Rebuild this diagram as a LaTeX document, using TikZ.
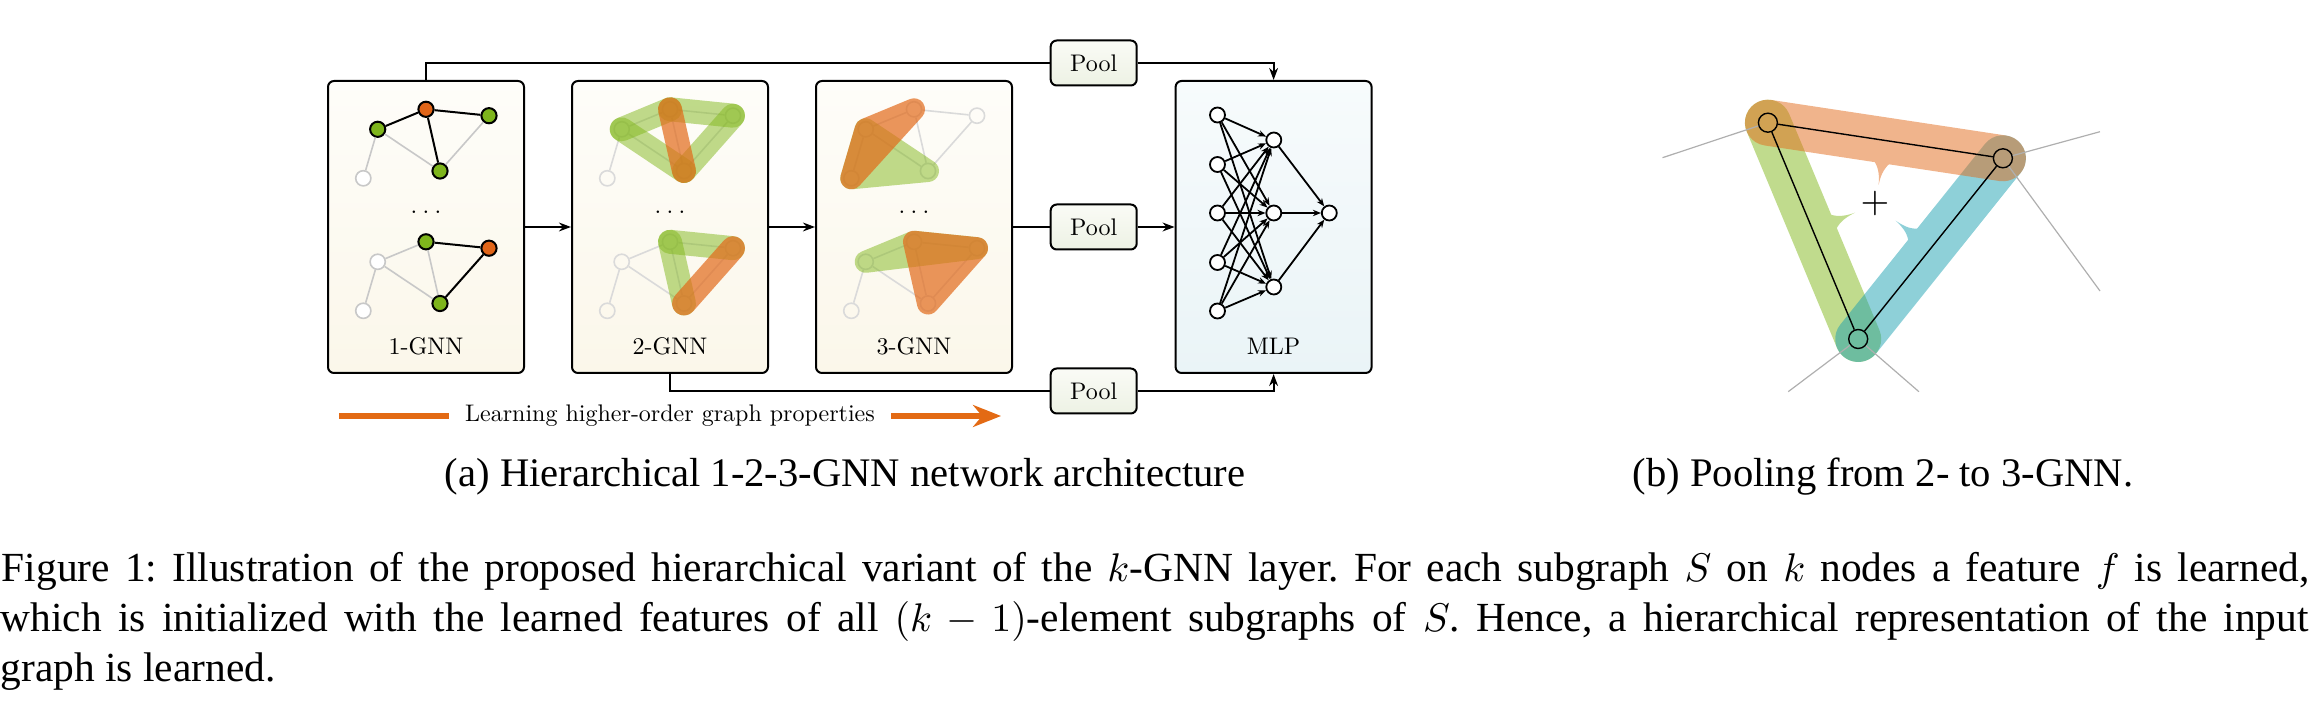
\documentclass[tikz,border=0pt]{standalone}
\usepackage{fontspec}
\newfontfamily\capfont{Liberation Serif}
\newfontfamily\lmten{lmroman10-regular}[Extension=.otf]
\usetikzlibrary{arrows.meta,calc}

\definecolor{gfill}{RGB}{126,181,28}
\definecolor{ofill}{RGB}{224,101,25}
\definecolor{gband}{RGB}{130,184,28}
\definecolor{oband}{RGB}{226,106,26}
\definecolor{tealc}{RGB}{29,161,177}
\definecolor{lgray}{RGB}{200,200,200}
\definecolor{fgray}{RGB}{218,218,218}
\definecolor{bgray}{RGB}{175,175,175}
\definecolor{boxtop}{RGB}{254,253,249}
\definecolor{boxbot}{RGB}{251,247,234}
\definecolor{mlptop}{RGB}{247,251,252}
\definecolor{mlpbot}{RGB}{234,244,247}
\definecolor{pooltop}{RGB}{250,251,246}
\definecolor{poolbot}{RGB}{237,242,228}
\definecolor{learn}{RGB}{227,106,20}

\newcommand\spike[3]{%
  \coordinate (spE) at ($(#1)!5.6pt!(#2)$);
  \coordinate (spM) at ($(spE)!0.3!(#2)$);
  \coordinate (spN) at ($(spE)!0.65!(#2)$);
  \fill[#3] ($(#1)!3pt!90:(#2)$) -- ($(spE)!1.9pt!90:(#2)$)
    .. controls ($(spM)!0.45pt!90:(#2)$) and ($(spN)!0.12pt!90:(#2)$) .. (#2)
    .. controls ($(spN)!0.12pt!-90:(#2)$) and ($(spM)!0.45pt!-90:(#2)$) .. ($(spE)!1.9pt!-90:(#2)$)
    -- ($(#1)!3pt!-90:(#2)$) -- cycle;
}
\newcommand\gdots{.\kern0.222em.\kern0.222em.}

\begin{document}
\begin{tikzpicture}[x=0.25pt,y=-0.25pt,font=\lmten\fontsize{6}{7.2}\selectfont,
 gnnbox/.style={draw, line width=0.5pt, rounded corners=1.5pt, minimum width=49pt, minimum height=73pt, inner sep=0pt, top color=boxtop, bottom color=boxbot},
 mlpbox/.style={gnnbox, top color=mlptop, bottom color=mlpbot},
 poolbox/.style={draw, line width=0.5pt, rounded corners=1.5pt, minimum width=21.5pt, minimum height=11.25pt, inner sep=0pt, top color=pooltop, bottom color=poolbot},
 conn/.style={line width=0.5pt},
 arr/.style={conn, -{Stealth[length=3pt,width=2.2pt]}},
 vtx/.style={circle, draw=black, line width=0.5pt, minimum size=3.8pt, inner sep=0pt},
 vg/.style={vtx, fill=gfill},
 vo/.style={vtx, fill=ofill},
 vw/.style={vtx, draw=lgray, line width=0.4pt, fill=white},
 vf/.style={vtx, draw=fgray, line width=0.4pt},
 eb/.style={line width=0.5pt},
 eg/.style={line width=0.4pt, draw=lgray},
 ef/.style={line width=0.4pt, draw=fgray},
 gb/.style={line width=6pt, line cap=round, draw=gband, opacity=0.5},
 ob/.style={line width=6pt, line cap=round, draw=oband, opacity=0.7},
 tri/.style={line width=5.5pt, line join=round},
 mn/.style={circle, draw, line width=0.45pt, fill=white, minimum size=3.75pt, inner sep=0pt},
 ma/.style={line width=0.45pt, -{Stealth[length=2pt,width=1.6pt]}},
 bn/.style={circle, draw, line width=0.35pt, minimum size=4.75pt, inner sep=0pt},
 be/.style={line width=0.35pt},
 bgl/.style={line width=0.3pt, draw=bgray},
 wideband/.style={line width=11.5pt, line cap=round},
 capt/.style={inner sep=0pt},
 lbl/.style={inner sep=0pt}
 ]
\useasboundingbox (0,0) rectangle (2315,715);

% ---------- boxes ----------
\node[gnnbox] (b1) at (426,227) {};
\node[gnnbox] (b2) at (670,227) {};
\node[gnnbox] (b3) at (914,227) {};
\node[mlpbox] (mlp) at (1273.6,227) {};
\node[poolbox] (p1) at (1093.7,63) {Pool};
\node[poolbox] (p2) at (1093.7,227) {Pool};
\node[poolbox] (p3) at (1093.7,391) {Pool};

% ---------- connectors ----------
\draw[conn] (b1.north) |- (p1.west);
\draw[arr] (p1.east) -| (mlp.north);
\draw[arr] (b1) -- (b2);
\draw[arr] (b2) -- (b3);
\draw[conn] (b3) -- (p2);
\draw[arr] (p2) -- (mlp);
\draw[conn] (b2.south) |- (p3.west);
\draw[arr] (p3.east) -| (mlp.south);

% ---------- 1-GNN ----------
\begin{scope}[shift={(426,227)}]
 \node[vg] (aA) at (-48.3,-97.7) {};
 \node[vo] (aB) at (0,-117.7) {};
 \node[vg] (aC) at (63,-111.3) {};
 \node[vg] (aD) at (14,-56) {};
 \node[vw] (aE) at (-62.7,-48.7) {};
 \draw[eg] (aA) -- (aD) (aC) -- (aD) (aA) -- (aE);
 \draw[eb] (aA) -- (aB) (aB) -- (aC) (aB) -- (aD);
 \node[vw] (bA) at (-48.3,34.8) {};
 \node[vg] (bB) at (0,14.8) {};
 \node[vo] (bC) at (63,21.2) {};
 \node[vg] (bD) at (14,76.5) {};
 \node[vw] (bE) at (-62.7,83.8) {};
 \draw[eg] (bA) -- (bB) (bA) -- (bD) (bB) -- (bD) (bA) -- (bE);
 \draw[eb] (bB) -- (bC) (bC) -- (bD);
 \node[lbl] (dots1) at (0,-15) {\gdots};
 \node[lbl] (lab1) at (0,119) {1-GNN};
\end{scope}

% ---------- 2-GNN ----------
\begin{scope}[shift={(670,227)}]
 \foreach \n/\x/\y in {A/-48.3/-97.7,B/0/-117.7,C/63/-111.3,D/14/-56,E/-62.7/-48.7}{
   \node[vf] (c\n) at (\x,\y) {};
   \node[vf] (d\n) at (\x,\y+132.5) {};
 }
 \draw[ef] (cA) -- (cB) (cB) -- (cC) (cB) -- (cD) (cA) -- (cD) (cC) -- (cD) (cA) -- (cE);
 \draw[ef] (dA) -- (dB) (dB) -- (dC) (dB) -- (dD) (dA) -- (dD) (dC) -- (dD) (dA) -- (dE);
 \draw[gb] (cA.center) -- (cB.center);
 \draw[gb] (cB.center) -- (cC.center);
 \draw[gb] (cC.center) -- (cD.center);
 \draw[gb] (cD.center) -- (cA.center);
 \draw[ob] (cB.center) -- (cD.center);
 \draw[gb] (dB.center) -- (dC.center);
 \draw[gb] (dB.center) -- (dD.center);
 \draw[ob] (dC.center) -- (dD.center);
 \node[lbl] (dots2) at (0,-15) {\gdots};
 \node[lbl] (lab2) at (0,119) {2-GNN};
\end{scope}

% ---------- 3-GNN ----------
\begin{scope}[shift={(914,227)}]
 \foreach \n/\x/\y in {A/-48.3/-97.7,B/0/-117.7,C/63/-111.3,D/14/-56,E/-62.7/-48.7}{
   \node[vf] (e\n) at (\x,\y) {};
   \node[vf] (f\n) at (\x,\y+132.5) {};
 }
 \draw[ef] (eA) -- (eB) (eB) -- (eC) (eB) -- (eD) (eA) -- (eD) (eC) -- (eD) (eA) -- (eE);
 \draw[ef] (fA) -- (fB) (fB) -- (fC) (fB) -- (fD) (fA) -- (fD) (fC) -- (fD) (fA) -- (fE);
 \begin{scope}[transparency group, opacity=0.5]
  \filldraw[tri, draw=gband, fill=gband] (eA.center) -- (eD.center) -- (eE.center) -- cycle;
 \end{scope}
 \begin{scope}[transparency group, opacity=0.7]
  \filldraw[tri, draw=oband, fill=oband] (eA.center) -- (eB.center) -- (eE.center) -- cycle;
 \end{scope}
 \begin{scope}[transparency group, opacity=0.5]
  \filldraw[tri, draw=gband, fill=gband] (fA.center) -- (fB.center) -- (fC.center) -- cycle;
 \end{scope}
 \begin{scope}[transparency group, opacity=0.7]
  \filldraw[tri, draw=oband, fill=oband] (fB.center) -- (fC.center) -- (fD.center) -- cycle;
 \end{scope}
 \node[lbl] (dots3) at (0,-15) {\gdots};
 \node[lbl] (lab3) at (0,119) {3-GNN};
\end{scope}

% ---------- MLP ----------
\foreach \i/\y in {1/115,2/164.5,3/213,4/262.5,5/311}{
  \node[mn] (in\i) at (1217.5,\y) {};
}
\foreach \j/\y in {1/140,2/213,3/287}{
  \node[mn] (hd\j) at (1273.8,\y) {};
}
\node[mn] (out) at (1329.3,213) {};
\foreach \i in {1,...,5}{
  \foreach \j in {1,2,3}{
    \draw[ma] (in\i) -- (hd\j);
  }
}
\foreach \j in {1,2,3}{
  \draw[ma] (hd\j) -- (out);
}
\node[lbl] (labm) at (1273.6,346) {MLP};

% ---------- learning arrow ----------
\coordinate (lrnL) at (339,416);
\coordinate (lrnR) at (1001,416);
\draw[draw=learn, line width=1.5pt, -{Stealth[length=7pt,width=5.5pt]}] (lrnL) -- (lrnR);
\node[fill=white, inner sep=0pt, minimum width=110.5pt, minimum height=7pt] (lrnT) at (670,416) {Learning higher-order graph properties};

% ---------- (b) pooling ----------
\coordinate (cP) at (1767.9,122.7);
\coordinate (cQ) at (2002.9,158.3);
\coordinate (cR) at (1858.2,339);
\coordinate (tO) at (1878.6,185);
\coordinate (tG) at (1855,212.7);
\coordinate (tB) at (1895.7,220.7);
\coordinate (fO) at ($(cP)!(tO)!(cQ)$);
\coordinate (fG) at ($(cP)!(tG)!(cR)$);
\coordinate (fB) at ($(cQ)!(tB)!(cR)$);
\coordinate (gP) at (1662.5,157.7);
\coordinate (gQ1) at (2100,131.7);
\coordinate (gQ2) at (2100,291);
\coordinate (gR1) at (1788.2,391.7);
\coordinate (gR2) at (1918.9,391.7);

\begin{scope}[transparency group, opacity=0.5]
 \draw[wideband, draw=gband] (cP) -- (cR);
 \spike{fG}{tG}{gband}
\end{scope}
\begin{scope}[transparency group, opacity=0.5]
 \draw[wideband, draw=tealc] (cQ) -- (cR);
 \spike{fB}{tB}{tealc}
\end{scope}
\begin{scope}[transparency group, opacity=0.5]
 \draw[wideband, draw=oband] (cP) -- (cQ);
 \spike{fO}{tO}{oband}
\end{scope}

\node[bn] (nP) at (cP) {};
\node[bn] (nQ) at (cQ) {};
\node[bn] (nR) at (cR) {};
\draw[bgl] (nP) -- (gP);
\draw[bgl] (nQ) -- (gQ1);
\draw[bgl] (nQ) -- (gQ2);
\draw[bgl] (nR) -- (gR1);
\draw[bgl] (nR) -- (gR2);
\draw[be] (nP) -- (nQ) (nP) -- (nR) (nQ) -- (nR);
\node[inner sep=0pt, font=\fontsize{9}{9}\selectfont] (plus) at (1875,203.3) {$+$};

% ---------- captions ----------
\node[capt, anchor=base] (capa) at (845,487) {\capfont\fontsize{10.15}{12.5}\selectfont (a) Hierarchical 1-2-3-GNN network architecture};
\node[capt, anchor=base] (capb) at (1883,487) {\capfont\fontsize{10.15}{12.5}\selectfont (b) Pooling from 2- to 3-GNN.};
\node[capt, anchor=base west] (cl1) at (1,582) {\capfont\fontsize{10.35}{12.5}\selectfont\frenchspacing\hbox to 577pt{Figure 1: Illustration of the proposed hierarchical variant of the $k$-GNN layer. For each subgraph $S$ on $k$ nodes a feature $f$ is learned,}};
\node[capt, anchor=base west] (cl2) at (0,632) {\capfont\fontsize{10.35}{12.5}\selectfont\frenchspacing\hbox to 577pt{which is initialized with the learned features of all $(k-1)$-element subgraphs of $S$. Hence, a hierarchical representation of the input}};
\node[capt, anchor=base west] (cl3) at (0,682) {\capfont\fontsize{10.35}{12.5}\selectfont graph is learned.};
\end{tikzpicture}
\end{document}
